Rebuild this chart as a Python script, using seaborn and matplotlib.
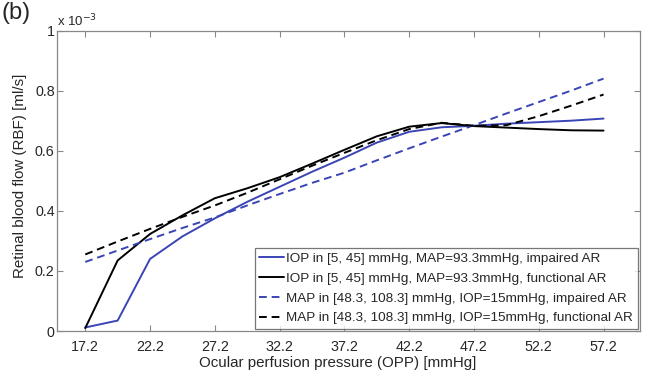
import numpy as np
import pandas as pd
import matplotlib
matplotlib.use("Agg")
import matplotlib.pyplot as plt
import seaborn as sns
from matplotlib.ticker import FuncFormatter

# OPP values [mmHg]
opp = [17.2, 19.7, 22.2, 24.7, 27.2, 29.7, 32.2, 34.7, 37.2, 39.7,
       42.2, 44.7, 47.2, 49.7, 52.2, 54.7, 57.2]
# RBF values in units of 1e-3 ml/s
iop_impaired = [0.012, 0.035, 0.240, 0.315, 0.375, 0.430, 0.480, 0.530, 0.577, 0.627,
                0.663, 0.678, 0.683, 0.690, 0.695, 0.700, 0.707]
iop_functional = [0.010, 0.235, 0.323, 0.385, 0.442, 0.475, 0.512, 0.557, 0.603, 0.648,
                  0.680, 0.692, 0.682, 0.677, 0.672, 0.668, 0.667]
map_impaired = [0.230, 0.268, 0.306, 0.343, 0.378, 0.418, 0.456, 0.493, 0.527, 0.568,
                0.608, 0.647, 0.685, 0.724, 0.762, 0.800, 0.840]
map_functional = [0.255, 0.298, 0.340, 0.380, 0.418, 0.460, 0.505, 0.550, 0.593, 0.635,
                  0.672, 0.693, 0.683, 0.685, 0.715, 0.750, 0.787]

labels = ["IOP in [5, 45] mmHg, MAP=93.3mmHg, impaired AR",
          "IOP in [5, 45] mmHg, MAP=93.3mmHg, functional AR",
          "MAP in [48.3, 108.3] mmHg, IOP=15mmHg, impaired AR",
          "MAP in [48.3, 108.3] mmHg, IOP=15mmHg, functional AR"]
xticks = [17.2, 22.2, 27.2, 32.2, 37.2, 42.2, 47.2, 52.2, 57.2]
yticks = [0, 0.2, 0.4, 0.6, 0.8, 1.0]

sns.set_theme(style="white")
plt.rcParams['font.family'] = ['Liberation Sans', 'DejaVu Sans']

fig = plt.figure(figsize=(6.45, 3.72), dpi=100)
ax = fig.add_axes([0.089, 0.11, 0.903, 0.808])

blue = "#3a45b5"
series = [(iop_impaired, blue, "-"), (iop_functional, "black", "-"),
          (map_impaired, blue, (0, (4, 2.5))), (map_functional, "black", (0, (4, 2.5)))]
for (vals, col, ls), lab in zip(series, labels):
    df = pd.DataFrame({"OPP": opp, "RBF": np.array(vals) * 1e-3})
    sns.lineplot(data=df, x="OPP", y="RBF", ax=ax, color=col, linestyle=ls,
                 linewidth=1.4, label=lab)

ax.set_xlim(15.05, 60.0)
ax.set_ylim(0, 1e-3)
ax.set_xticks(xticks)
ax.set_xticklabels([f"{t:.1f}" for t in xticks])
ax.set_yticks([t * 1e-3 for t in yticks])
ax.yaxis.set_major_formatter(FuncFormatter(lambda v, p: f"{v*1e3:g}"))
ax.tick_params(direction="in", length=4, width=0.8, color="#888888",
               labelsize=10.3, top=True, right=True, bottom=True, left=True)
ax.tick_params(axis="x", pad=6.5)
ax.tick_params(axis="y", pad=2)
for s in ax.spines.values():
    s.set_color("#888888")
    s.set_linewidth(0.9)

ax.set_xlabel("Ocular perfusion pressure (OPP) [mmHg]", fontsize=10.9, labelpad=1.5, x=0.482)
ax.set_ylabel("Retinal blood flow (RBF) [ml/s]", fontsize=10.9, labelpad=6, y=0.515)
ax.text(0.0, 1.005, r"x 10$^{-3}$", transform=ax.transAxes, fontsize=9.5,
        ha="left", va="bottom")
fig.text(0.003, 0.995, "(b)", fontsize=17, ha="left", va="top")

leg = ax.legend(loc="lower right", fontsize=9.7, frameon=True, fancybox=False,
                handlelength=1.8, handletextpad=0.2, borderpad=0.35,
                labelspacing=0.55, borderaxespad=0.15)
leg.get_frame().set_edgecolor("#555555")
leg.get_frame().set_linewidth(0.9)

fig.savefig("out.png", dpi=100)
